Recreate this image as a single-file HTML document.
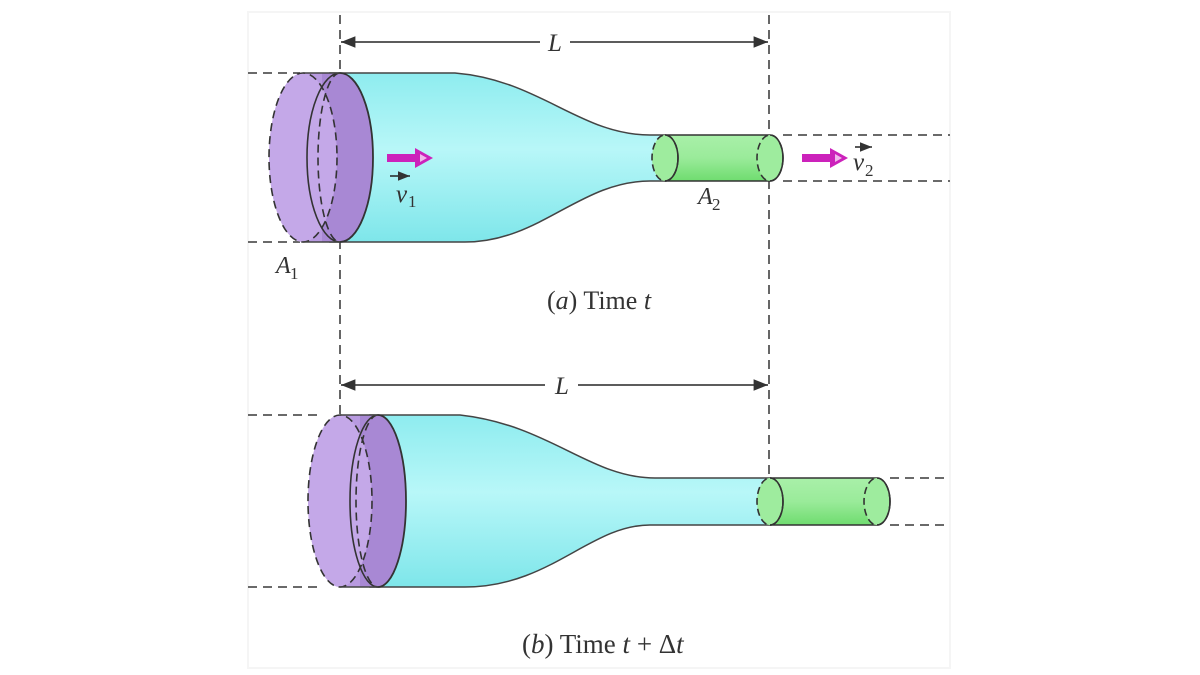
<!DOCTYPE html>
<html><head><meta charset="utf-8"><style>
html,body{margin:0;padding:0;background:#fff;}
svg{display:block;}
text{font-family:"Liberation Serif",serif;fill:#333;}
</style></head><body>
<svg width="1200" height="675" viewBox="0 0 1200 675" xmlns="http://www.w3.org/2000/svg">
<defs>
<linearGradient id="cy" x1="0" y1="0" x2="0" y2="1">
<stop offset="0" stop-color="#8eecef"/><stop offset="0.45" stop-color="#b8f7f8"/><stop offset="1" stop-color="#7ee6ea"/>
</linearGradient>
<linearGradient id="gr" x1="0" y1="0" x2="0" y2="1">
<stop offset="0" stop-color="#a9f0a9"/><stop offset="0.5" stop-color="#9aeb9a"/><stop offset="1" stop-color="#6fdc6f"/>
</linearGradient>
<marker id="ar" viewBox="0 0 10 10" refX="10" refY="5" markerWidth="8" markerHeight="8" orient="auto-start-reverse"><path d="M0,1 L10,5 L0,9 Z" fill="#333"/></marker>
</defs>
<rect x="248" y="12" width="702" height="656" fill="none" stroke="#f5f5f5" stroke-width="2"/>
<g stroke="#555" stroke-width="1.8" stroke-dasharray="9,6" fill="none">
<line x1="340" y1="15" x2="340" y2="415"/>
<line x1="769" y1="15" x2="769" y2="478"/>
<line x1="248" y1="73" x2="300" y2="73"/>
<line x1="248" y1="242" x2="300" y2="242"/>
<line x1="783" y1="135" x2="950" y2="135"/>
<line x1="783" y1="181" x2="950" y2="181"/>
<line x1="248" y1="415" x2="318" y2="415"/>
<line x1="248" y1="587" x2="318" y2="587"/>
<line x1="890" y1="478" x2="950" y2="478"/>
<line x1="890" y1="525" x2="950" y2="525"/>
</g>
<line x1="341" y1="42" x2="540" y2="42" stroke="#444" stroke-width="1.8" marker-start="url(#ar)"/>
<line x1="570" y1="42" x2="768" y2="42" stroke="#444" stroke-width="1.8" marker-end="url(#ar)"/>
<text x="555" y="51" font-size="25" font-style="italic" text-anchor="middle">L</text>
<path d="M330,73 L455,73 C540,80 580,135 650,135 L665,135 L665,181 L650,181 C580,181 540,242 465,242 L330,242 Z" fill="url(#cy)" stroke="#444" stroke-width="1.5"/>
<path d="M303,73 L340,73 A33,84.5 0 0 1 340,242 L303,242 A34,84.5 0 0 1 303,73 Z" fill="#b89ae0"/>
<path d="M322,73 L340,73 A33,84.5 0 0 1 340,242 L322,242 Z" fill="#a888d4"/>
<ellipse cx="303" cy="157.5" rx="34" ry="84.5" fill="#c4a8e8" stroke="#333" stroke-width="1.6" stroke-dasharray="8,5"/>
<path d="M340,73 A33,84.5 0 0 0 340,242" fill="none" stroke="#333" stroke-width="1.6"/>
<path d="M340,73 A22,84.5 0 0 0 340,242" fill="none" stroke="#333" stroke-width="1.6" stroke-dasharray="8,5"/>
<path d="M340,73 A33,84.5 0 0 1 340,242" fill="none" stroke="#333" stroke-width="1.8"/>
<line x1="303" y1="73" x2="340" y2="73" stroke="#444" stroke-width="1.5"/>
<line x1="303" y1="242" x2="340" y2="242" stroke="#444" stroke-width="1.5"/>
<rect x="665" y="135" width="105" height="46" fill="url(#gr)"/>
<line x1="665" y1="135" x2="770" y2="135" stroke="#333" stroke-width="1.5"/>
<line x1="665" y1="181" x2="770" y2="181" stroke="#333" stroke-width="1.5"/>
<ellipse cx="665" cy="158" rx="13" ry="23" fill="#9eec9e" stroke="#333" stroke-width="1.6" stroke-dasharray="7,4"/>
<path d="M665,135 A13,23 0 0 1 665,181" fill="none" stroke="#333" stroke-width="1.6"/>
<ellipse cx="770" cy="158" rx="13" ry="23" fill="#9eec9e" stroke="#333" stroke-width="1.6" stroke-dasharray="7,4"/>
<path d="M770,135 A13,23 0 0 1 770,181" fill="none" stroke="#333" stroke-width="1.6"/>
<path d="M387,154 L415,154 L415,148 L433,158 L415,168 L415,162 L387,162 Z" fill="#cc22bb"/>
<path d="M420,154 L427,158 L420,162 Z" fill="#f0b8ec"/>
<path d="M802,154 L830,154 L830,148 L848,158 L830,168 L830,162 L802,162 Z" fill="#cc22bb"/>
<path d="M835,154 L842,158 L835,162 Z" fill="#f0b8ec"/>
<text x="396" y="202" font-size="25" font-style="italic">v</text><text x="408" y="207" font-size="17">1</text>
<line x1="390" y1="176" x2="410" y2="176" stroke="#222" stroke-width="1.5" marker-end="url(#ar)"/>
<text x="853" y="170" font-size="25" font-style="italic">v</text><text x="865" y="176" font-size="17">2</text>
<line x1="855" y1="147" x2="872" y2="147" stroke="#222" stroke-width="1.5" marker-end="url(#ar)"/>
<text x="698" y="204" font-size="24" font-style="italic">A</text><text x="712" y="210" font-size="17">2</text>
<text x="276" y="273" font-size="24" font-style="italic">A</text><text x="290" y="279" font-size="17">1</text>
<text x="547" y="309" font-size="26">(<tspan font-style="italic">a</tspan>)  Time <tspan font-style="italic">t</tspan></text>
<line x1="341" y1="385" x2="545" y2="385" stroke="#444" stroke-width="1.8" marker-start="url(#ar)"/>
<line x1="578" y1="385" x2="768" y2="385" stroke="#444" stroke-width="1.8" marker-end="url(#ar)"/>
<text x="562" y="394" font-size="25" font-style="italic" text-anchor="middle">L</text>
<path d="M370,415 L460,415 C550,425 590,478 655,478 L770,478 L770,525 L650,525 C590,525 550,587 465,587 L370,587 Z" fill="url(#cy)" stroke="#444" stroke-width="1.5"/>
<path d="M340,415 L378,415 A28,86 0 0 1 378,587 L340,587 A32,86 0 0 1 340,415 Z" fill="#b89ae0"/>
<path d="M360,415 L378,415 A28,86 0 0 1 378,587 L360,587 Z" fill="#a888d4"/>
<ellipse cx="340" cy="501" rx="32" ry="86" fill="#c4a8e8" stroke="#333" stroke-width="1.6" stroke-dasharray="8,5"/>
<path d="M378,415 A28,86 0 0 0 378,587" fill="none" stroke="#333" stroke-width="1.6"/>
<path d="M378,415 A22,86 0 0 0 378,587" fill="none" stroke="#333" stroke-width="1.6" stroke-dasharray="8,5"/>
<path d="M378,415 A28,86 0 0 1 378,587" fill="none" stroke="#333" stroke-width="1.8"/>
<line x1="340" y1="415" x2="378" y2="415" stroke="#444" stroke-width="1.5"/>
<line x1="340" y1="587" x2="378" y2="587" stroke="#444" stroke-width="1.5"/>
<rect x="770" y="478" width="107" height="47" fill="url(#gr)"/>
<line x1="770" y1="478" x2="877" y2="478" stroke="#333" stroke-width="1.5"/>
<line x1="770" y1="525" x2="877" y2="525" stroke="#333" stroke-width="1.5"/>
<ellipse cx="770" cy="501.5" rx="13" ry="23.5" fill="#9eec9e" stroke="#333" stroke-width="1.6" stroke-dasharray="7,4"/>
<path d="M770,478 A13,23.5 0 0 1 770,525" fill="none" stroke="#333" stroke-width="1.6"/>
<ellipse cx="877" cy="501.5" rx="13" ry="23.5" fill="#9eec9e" stroke="#333" stroke-width="1.6" stroke-dasharray="7,4"/>
<path d="M877,478 A13,23.5 0 0 1 877,525" fill="none" stroke="#333" stroke-width="1.6"/>
<text x="522" y="653" font-size="27">(<tspan font-style="italic">b</tspan>) Time <tspan font-style="italic">t</tspan> + Δ<tspan font-style="italic">t</tspan></text>
</svg>
</body></html>
